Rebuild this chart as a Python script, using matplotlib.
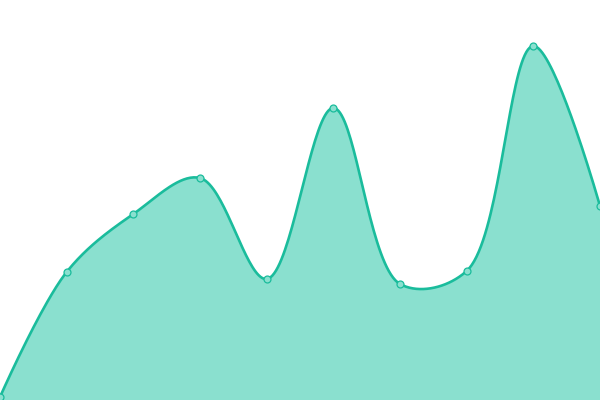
import numpy as np
import matplotlib
matplotlib.use("Agg")
import matplotlib.pyplot as plt

categories = list(range(10))
values = [3, 128, 186, 222, 121, 292, 116, 129, 354, 194]

LINE = "#1abc9c"
FILL = "#8ae0cf"

W, H = 600, 400
XMAX, YMAX = 9, 400


def catmull_rom_centripetal(x, y, alpha=0.5, n=40):
    # work in pixel space
    P = np.column_stack([np.asarray(x, float) * W / XMAX, np.asarray(y, float) * H / YMAX])
    out = [P[0:1]]
    N = len(P)
    for i in range(N - 1):
        p1, p2 = P[i], P[i + 1]
        p0 = P[i - 1] if i > 0 else None
        p3 = P[i + 2] if i + 2 < N else None
        l12 = np.linalg.norm(p2 - p1)
        l12a, l12_2a = l12 ** alpha, l12 ** (2 * alpha)
        c1 = p1.copy()
        if p0 is not None:
            l01 = np.linalg.norm(p1 - p0)
            l01a, l01_2a = l01 ** alpha, l01 ** (2 * alpha)
            a = 2 * l01_2a + 3 * l01a * l12a + l12_2a
            nn = 3 * l01a * (l01a + l12a)
            c1 = (p1 * a - p0 * l12_2a + p2 * l01_2a) / nn
        c2 = p2.copy()
        if p3 is not None:
            l23 = np.linalg.norm(p3 - p2)
            l23a, l23_2a = l23 ** alpha, l23 ** (2 * alpha)
            b = 2 * l23_2a + 3 * l23a * l12a + l12_2a
            m = 3 * l23a * (l23a + l12a)
            c2 = (p2 * b + p1 * l23_2a - p3 * l12_2a) / m
        t = np.linspace(0, 1, n)[1:, None]
        pts = ((1 - t) ** 3) * p1 + 3 * ((1 - t) ** 2) * t * c1 + 3 * (1 - t) * t ** 2 * c2 + t ** 3 * p2
        out.append(pts)
    pts = np.vstack(out)
    return pts[:, 0] * XMAX / W, pts[:, 1] * YMAX / H


fig = plt.figure(figsize=(6, 4), dpi=100)
ax = fig.add_axes([0, 0, 1, 1])
sx, sy = catmull_rom_centripetal(categories, values)
ax.fill_between(sx, sy, 0, color=FILL, linewidth=0)
ax.plot(sx, sy, color=LINE, linewidth=1.9, solid_capstyle="round")
ax.plot(categories, values, "o", markersize=5, markerfacecolor=FILL,
        markeredgecolor=LINE, markeredgewidth=0.9, clip_on=False)
ax.set_xlim(0, XMAX)
ax.set_ylim(0, YMAX)
ax.axis("off")
fig.savefig("out.png", dpi=100)
